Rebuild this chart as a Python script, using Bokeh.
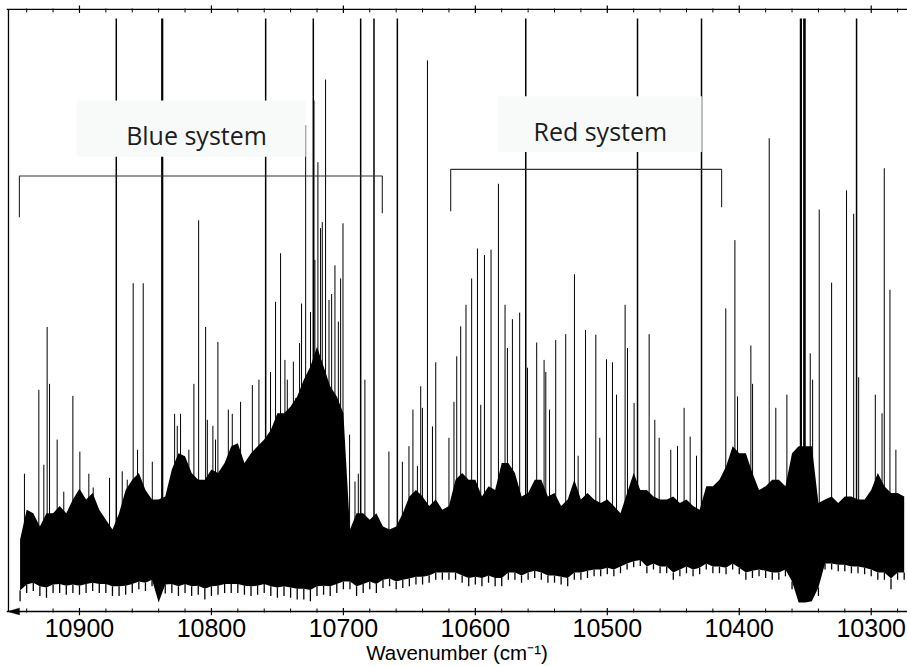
import numpy as np
from bokeh.plotting import figure
from bokeh.models import (Range1d, LinearAxis, FixedTicker, BoxAnnotation,
                          Label, ColumnDataSource, Span, PolyAnnotation)
from bokeh.embed import file_html
from bokeh.resources import INLINE

# ---------------------------------------------------------------------------
# Spectrum data (wavenumber in cm^-1, intensity in arbitrary units)
# ---------------------------------------------------------------------------

# Congested part of the spectrum, sampled every 5 cm^-1.
#   band_low   : deepest excursions of the noise floor
#   band_floor : bottom of the blended (solid) region
#   band_high  : top of the dense forest of unresolved lines
band_wn = list(range(10945, 10270, -5))
band_low = [
    1.7, 3.1, 3.4, 2.6, 2.3, 3.1, 3.1, 2.8, 3.1, 2.8,      # 10945-10900
    3.1, 3.4, 3.1, 3.1, 2.6, 2.6, 2.8, 3.1, 3.7, 3.4,      # 10895-10850
    4.2, 1.5, 3.0, 3.1, 2.6, 3.1, 2.6, 2.8, 2.0, 2.6,      # 10845-10800
    2.8, 3.1, 3.1, 3.1, 2.8, 2.6, 2.8, 3.1, 2.6, 2.3,      # 10795-10750
    2.6, 2.3, 2.0, 2.0, 1.7, 2.6, 2.8, 2.6, 3.1, 3.7,      # 10745-10700
    3.7, 2.6, 3.1, 3.7, 3.1, 3.9, 4.2, 3.7, 3.9, 4.2,      # 10695-10650
    4.5, 4.5, 4.8, 5.3, 5.3, 5.3, 5.3, 4.8, 4.2, 4.5,      # 10645-10600
    4.2, 4.8, 4.2, 4.2, 5.3, 5.3, 4.8, 5.3, 5.6, 5.3,      # 10595-10550
    4.8, 4.8, 4.5, 4.2, 5.3, 5.3, 5.6, 5.9, 5.9, 6.2,      # 10545-10500
    5.9, 6.4, 7.0, 7.4, 7.6, 6.4, 7.0, 6.4, 6.4, 5.3,      # 10495-10450
    5.9, 6.4, 5.9, 6.2, 7.0, 6.4, 6.4, 6.2, 7.0, 6.2,      # 10445-10400
    5.3, 5.6, 5.9, 5.6, 5.3, 5.3, 5.9, 3.7, 1.5, 1.5,      # 10395-10350
    1.7, 2.6, 7.0, 7.0, 6.7, 6.7, 6.4, 6.4, 6.2, 5.9,      # 10345-10300
    5.3, 5.3, 3.7, 5.3, 5.3,                               # 10295-10275
]
band_floor = [
    3.5, 4.5, 4.8, 4.2, 4.0, 4.5, 4.6, 4.3, 4.5, 4.3,
    4.6, 4.8, 4.6, 4.6, 4.2, 4.2, 4.3, 4.6, 5.0, 4.8,
    5.3, 1.5, 4.5, 4.6, 4.2, 4.6, 4.2, 4.3, 3.8, 4.2,
    4.3, 4.6, 4.6, 4.6, 4.3, 4.2, 4.3, 4.6, 4.2, 4.0,
    4.2, 4.0, 3.8, 3.8, 3.6, 4.2, 4.3, 4.2, 4.6, 5.0,
    5.0, 4.2, 4.6, 5.0, 4.6, 5.3, 5.5, 5.0, 5.3, 5.5,
    5.8, 5.8, 6.0, 6.5, 6.5, 6.5, 6.5, 6.0, 5.6, 5.8,
    5.6, 6.0, 5.6, 5.6, 6.5, 6.5, 6.0, 6.5, 6.8, 6.5,
    6.0, 6.0, 5.8, 5.6, 6.5, 6.5, 6.8, 7.0, 7.0, 7.3,
    7.0, 7.5, 8.0, 8.4, 8.6, 7.5, 8.0, 7.5, 7.5, 6.5,
    7.0, 7.5, 7.0, 7.3, 8.0, 7.5, 7.5, 7.3, 8.0, 7.3,
    6.5, 6.8, 7.0, 6.8, 6.5, 6.5, 7.0, 5.0, 1.5, 1.5,
    1.7, 4.0, 8.0, 8.0, 7.8, 7.8, 7.5, 7.5, 7.3, 7.0,
    6.5, 6.5, 5.5, 6.5, 6.5,
]
band_high = [
    12.0, 17.0, 16.4, 14.2, 16.4, 16.4, 17.6, 16.4, 18.7, 20.5,   # 10945-10900
    18.7, 19.8, 17.0, 15.3, 13.7, 16.4, 20.3, 22.0, 23.1, 20.3,   # 10895-10850
    18.7, 18.7, 19.2, 23.7, 26.4, 25.9, 23.1, 22.0, 22.0, 23.7,   # 10845-10800
    23.1, 24.8, 27.6, 28.1, 24.8, 26.4, 27.6, 28.7, 30.3, 33.1,   # 10795-10750
    33.1, 34.2, 35.9, 38.7, 40.9, 44.2, 40.9, 37.6, 35.9, 33.1,   # 10745-10700
    13.7, 16.4, 16.4, 15.3, 16.4, 14.2, 13.7, 14.2, 16.4, 19.2,   # 10695-10650
    20.3, 19.2, 17.6, 18.7, 17.0, 17.6, 22.0, 23.1, 22.0, 22.0,   # 10645-10600
    19.2, 20.9, 20.3, 24.8, 24.8, 23.1, 19.2, 19.8, 22.0, 22.0,   # 10595-10550
    19.2, 19.8, 17.6, 18.7, 22.0, 18.7, 19.8, 18.7, 18.1, 18.7,   # 10545-10500
    17.6, 16.4, 19.8, 23.1, 20.3, 20.3, 19.2, 18.7, 18.7, 19.2,   # 10495-10450
    18.1, 18.7, 17.6, 17.0, 20.9, 20.9, 22.0, 24.2, 27.6, 26.4,   # 10445-10400
    26.4, 23.1, 20.3, 20.9, 22.0, 22.0, 20.9, 26.4, 27.6, 27.6,   # 10395-10350
    27.6, 18.1, 18.7, 19.2, 18.1, 19.2, 19.2, 18.7, 18.7, 20.3,   # 10345-10300
    23.1, 20.9, 19.8, 19.8, 19.2,                                 # 10295-10275
]

# Strong lines that saturate the detector (drawn at the saturation level)
saturated_wn = [10872.1, 10837.3, 10758.9, 10722.8, 10686.9, 10676.8,
                10659.1, 10561.8, 10477.1, 10428.6, 10353.3, 10350.6, 10311.1]
SATURATION = 99.0

# Resolved individual lines rising above the congested band
line_wn = [
    # tall lines
    10809.7, 10728.6, 10722.3, 10719.3, 10713.5, 10636.3, 10582.5,
    10377.3, 10339.4, 10318.7, 10313.3, 10290.1,
    # 10950-10785
    10941.7, 10930.8, 10927.0, 10924.5, 10922.7, 10916.9, 10911.9, 10905.0,
    10899.7, 10892.9, 10889.6, 10877.2, 10867.6, 10863.8, 10859.3, 10856.0,
    10853.7, 10851.7, 10844.8, 10827.9, 10825.9, 10823.4, 10817.1, 10813.3,
    10804.4, 10803.1, 10798.9, 10796.9, 10795.1, 10787.2,
    # 10785-10615
    10784.2, 10777.9, 10769.0, 10764.0, 10755.2, 10751.4, 10747.6, 10744.3,
    10742.5, 10737.9, 10736.2, 10733.2, 10731.7, 10724.9, 10721.6, 10717.3,
    10716.0, 10710.9, 10708.9, 10706.4, 10703.8, 10702.1, 10700.3, 10695.3,
    10691.2, 10688.7, 10683.7, 10665.5, 10655.3, 10650.3, 10647.3, 10643.9,
    10641.4, 10640.1, 10632.5, 10630.0, 10620.0, 10616.2,
    # 10615-10450
    10614.1, 10611.1, 10607.1, 10602.8, 10598.4, 10595.9, 10593.1, 10588.1,
    10577.5, 10575.7, 10571.9, 10566.4, 10560.5, 10553.5, 10547.9, 10546.6,
    10543.8, 10539.1, 10531.5, 10524.9, 10522.1, 10516.5, 10508.7, 10505.7,
    10500.6, 10496.1, 10493.0, 10486.5, 10484.7, 10479.7, 10468.3, 10464.0,
    10460.7, 10451.9,
    # 10450-10275
    10446.8, 10441.8, 10437.2, 10432.4, 10410.2, 10403.3, 10401.3, 10391.2,
    10389.9, 10372.3, 10363.9, 10346.2, 10344.4, 10330.0, 10309.5, 10296.9,
    10291.8, 10285.8, 10281.3,
]
line_int = [
    65.3, 81.2, 85.3, 75.0, 88.8, 92.0, 71.4,
    79.0, 67.1, 70.3, 66.4, 74.0,
    23.0, 37.0, 24.5, 47.5, 38.0, 28.7, 20.0, 36.0,
    26.7, 23.0, 20.7, 22.3, 23.4, 22.0, 54.8, 27.0,
    22.0, 54.8, 25.0, 33.0, 31.0, 33.0, 27.0, 38.0,
    47.5, 32.0, 31.0, 28.7, 45.0, 33.7,
    33.0, 35.0, 37.8, 38.7, 40.0, 51.7, 59.8, 42.0,
    38.7, 41.7, 35.6, 44.8, 51.4, 50.0, 58.7, 64.0,
    65.0, 52.0, 53.0, 57.8, 48.4, 55.6, 64.8, 29.5,
    21.7, 23.0, 38.7, 26.7, 25.0, 27.6, 33.7, 24.3,
    37.6, 34.0, 30.9, 41.6, 29.0, 35.0,
    42.6, 47.6, 51.2, 55.6, 60.6, 34.5, 59.5, 60.4,
    51.2, 44.0, 48.8, 49.9, 40.7, 44.9, 42.0, 40.0,
    33.7, 45.3, 46.3, 56.3, 26.0, 47.0, 46.2, 29.0,
    42.1, 41.6, 36.2, 51.2, 44.0, 34.8, 46.3, 32.0,
    29.0, 27.0,
    27.6, 34.0, 29.2, 26.0, 50.6, 62.0, 35.9, 44.4,
    38.0, 34.0, 36.2, 43.1, 38.7, 54.9, 39.1, 36.2,
    33.1, 53.7, 27.0,
]

# Band-system annotations: (first line, last line) of each progression
BLUE_SYSTEM = (10945.5, 10670.5)
RED_SYSTEM = (10618.7, 10413.4)

MAJOR_TICKS = [10900, 10800, 10700, 10600, 10500, 10400, 10300]
MINOR_TICKS = [t for t in range(10280, 10960, 20) if t not in MAJOR_TICKS]

# ---------------------------------------------------------------------------
# Figure
# ---------------------------------------------------------------------------
X_START, X_END = 10955.3, 10272.5      # reversed wavenumber axis
X_EDGE = 10953.8                       # left edge of the box
Y_TOP = 100.5                          # top edge of the box
PX = 1.0 / 6.0                         # intensity units per screen pixel

p = figure(width=907, height=666, output_backend="svg", toolbar_location=None,
           x_range=Range1d(X_START, X_END), y_range=Range1d(-0.67, 101.33),
           x_axis_location=None, y_axis_location=None,
           min_border_left=6, min_border_right=0,
           min_border_top=4, min_border_bottom=50)
p.outline_line_color = None
p.background_fill_color = "white"
p.border_fill_color = "white"
p.grid.visible = False

FONT = "Liberation Sans"

# Bottom axis carries the tick labels and the title; its line and ticks
# are drawn below together with the rest of the box.
bottom = LinearAxis(ticker=FixedTicker(ticks=MAJOR_TICKS, minor_ticks=MINOR_TICKS),
                    axis_label="Wavenumber (cm\u207b\u00b9)")
bottom.axis_line_color = None
bottom.major_tick_line_color = None
bottom.minor_tick_line_color = None
bottom.major_tick_in = 0
bottom.major_tick_out = 0
bottom.minor_tick_in = 0
bottom.minor_tick_out = 0
bottom.major_label_text_font = FONT
bottom.major_label_text_font_size = "25px"
bottom.major_label_text_color = "black"
bottom.major_label_standoff = 3
bottom.axis_label_text_font = FONT
bottom.axis_label_text_font_size = "20.5px"
bottom.axis_label_text_font_style = "normal"
bottom.axis_label_text_color = "black"
bottom.axis_label_standoff = 1
p.add_layout(bottom, "below")

# Box lines
p.segment(x0=[X_EDGE], y0=[0], x1=[X_EDGE], y1=[Y_TOP],
          line_color="black", line_width=1.3)
p.add_layout(Span(location=Y_TOP, dimension="width", line_color="black",
                  line_width=1.3))
p.add_layout(Span(location=0, dimension="width", line_color="black",
                  line_width=1.7))

# Ticks on the top and bottom edges, crossing the box line
n_maj, n_min = len(MAJOR_TICKS), len(MINOR_TICKS)
for edge, sign in ((Y_TOP, 1), (0.0, -1)):
    p.segment(x0=MAJOR_TICKS, y0=[edge + sign * 4.0 * PX] * n_maj,
              x1=MAJOR_TICKS, y1=[edge - sign * 3.5 * PX] * n_maj,
              line_color="black", line_width=1.2)
    p.segment(x0=MINOR_TICKS, y0=[edge + sign * 1.0 * PX] * n_min,
              x1=MINOR_TICKS, y1=[edge - sign * 3.0 * PX] * n_min,
              line_color="black", line_width=1.0)

# Congested band: blended body of unresolved lines plus noise excursions
p.varea(x=band_wn, y1=band_floor, y2=band_high, fill_color="black")
p.segment(x0=band_wn, y0=band_floor, x1=band_wn, y1=band_low,
          line_color="black", line_width=1.3)

# Resolved lines rising out of the band
LINE_BASE = 10.0
lines = ColumnDataSource(dict(x=line_wn, top=line_int,
                              base=[LINE_BASE] * len(line_wn)))
p.segment(x0="x", y0="base", x1="x", y1="top", source=lines,
          line_color="black", line_width=1.0)

# Saturated lines; the atomic lines near 10352 and 10837 are broad
broad = {10837.3: 2.2, 10353.3: 2.2, 10350.6: 2.6}
sat = ColumnDataSource(dict(
    x=saturated_wn,
    top=[SATURATION] * len(saturated_wn),
    base=[LINE_BASE] * len(saturated_wn),
    w=[broad.get(w, 1.5) for w in saturated_wn],
))
p.segment(x0="x", y0="base", x1="x", y1="top", source=sat,
          line_color="black", line_width="w")

# Brackets marking the two band systems
for (x_start, x_end), y_bar, leg_start, leg_end in (
        (BLUE_SYSTEM, 72.7, 65.8, 66.5),
        (RED_SYSTEM, 73.8, 66.8, 67.5)):
    p.line(x=[x_start, x_start, x_end, x_end],
           y=[leg_start, y_bar, y_bar, leg_end],
           line_color="#333333", line_width=1.2)

# Label panels
for left_x, right_x, y_top, y_bot in ((10902.2, 10728.6, 85.3, 75.9),
                                      (10583.0, 10428.4, 86.0, 76.7)):
    p.add_layout(BoxAnnotation(left=right_x, right=left_x, top=y_top,
                               bottom=y_bot, fill_color="#f8fafa",
                               fill_alpha=1.0, line_color=None))

for text, x, y in (("Blue system", 10811.3, 79.5),
                   ("Red system", 10505.3, 80.2)):
    p.add_layout(Label(x=x, y=y, text=text, text_align="center",
                       text_baseline="alphabetic", text_font="Open Sans",
                       text_font_size="25px", text_color="#1c1c1c"))

# Arrow head showing the direction of the wavenumber axis
p.add_layout(PolyAnnotation(xs=[X_EDGE + 0.6, X_EDGE - 8.4, X_EDGE - 8.4],
                            ys=[0.0, 3.6 * PX, -3.6 * PX],
                            fill_color="black", fill_alpha=1.0,
                            line_color="black", line_width=1))

open("out.html", "w").write(file_html(p, INLINE))
